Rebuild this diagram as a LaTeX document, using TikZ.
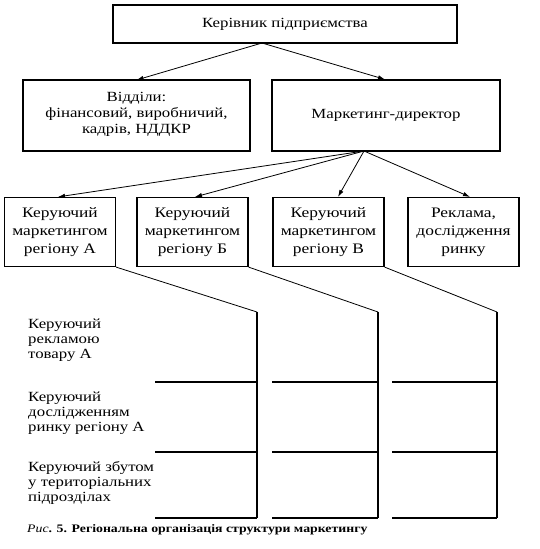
\documentclass[tikz,border=0pt]{standalone}
\usepackage{fontspec}
\setmainfont{Liberation Serif}[FakeStretch=1.2]
\usetikzlibrary{arrows.meta, positioning, calc}
\tikzset{
  obox/.style={draw, line width=1.2pt, align=center, inner sep=2pt,
               font=\fontsize{14}{16}\selectfont},
  rbox/.style={obox, minimum width=111pt, minimum height=69pt,
               font=\fontsize{14.5}{18}\selectfont},
  arr/.style={-{Latex[length=7pt,width=4.5pt]}, line width=0.8pt},
  slant/.style={line width=0.8pt},
  gridline/.style={line width=2pt},
  lbl/.style={anchor=west, align=left, inner sep=0pt,
              font=\fontsize{14}{15}\selectfont},
}
\begin{document}
\begin{tikzpicture}[x=1pt, y=-1pt]
  \useasboundingbox (0,0) rectangle (539,549);
  % top level
  \node[obox, minimum width=344pt, minimum height=38pt] (head) at (285,24) {Керівник підприємства};
  \node[obox, minimum width=227pt, minimum height=71pt, text depth=6pt] (depts) at (136.5,115.5)
    {Відділи:\\фінансовий, виробничий,\\кадрів, НДДКР};
  \node[obox, minimum width=228pt, minimum height=71pt] (mdir) at (386,115.5) {Маркетинг-директор};
  \coordinate (head-out) at (262,43);
  \draw[arr] (head-out) -- (143,80 -| depts.north);
  \draw[arr] (head-out) -- ($(mdir.north)+(-1,0)$);
  % regional managers
  \node[rbox] (reg-a) at (60,232) {Керуючий\\маркетингом\\регіону А};
  \node[rbox] (reg-b) at (192.5,232) {Керуючий\\маркетингом\\регіону Б};
  \node[rbox] (reg-c) at (328.5,232) {Керуючий\\маркетингом\\регіону В};
  \node[rbox] (adv) at (463.5,232) {Реклама,\\дослідження\\ринку};
  \coordinate (mdir-out) at (364,151);
  \draw[arr] (mdir-out) -- ($(reg-a.north)+(-2,0)$);
  \draw[arr] (mdir-out) -- ($(reg-b.north)+(2.5,0)$);
  \draw[arr] (mdir-out) -- ($(reg-c.north)+(9.5,0)$);
  \draw[arr] (mdir-out) -- ($(adv.north)+(6.5,0)$);
  % functions inside each region
  \node[lbl] (f-adv) at (28,340) {Керуючий\\рекламою\\товару А};
  \node[lbl] (f-res) at (28,413) {Керуючий\\дослідженням\\ринку регіону А};
  \node[lbl] (f-sale) at (28,483) {Керуючий збутом\\у територіальних\\підрозділах};
  \foreach \i/\bx/\cx/\lx in {1/reg-a/257/155, 2/reg-b/378/272, 3/reg-c/497/392}{
    \coordinate (col\i-top) at (\cx,312);
    \coordinate (col\i-bot) at (\cx,518);
    \draw[slant] (\bx.south east) -- (col\i-top);
    \draw[gridline] (col\i-top) -- (col\i-bot);
    \foreach \y in {382,452,518}
      \draw[gridline] (\lx,\y) -- (col\i-top |- 0,\y);
  }
  % caption
  \node[anchor=west, inner sep=0pt, font=\fontsize{11.5}{14}\selectfont] (cap) at (27,530)
    {\textit{Рис}\textbf{. 5. Регіональна організація структури маркетингу}};
\end{tikzpicture}
\end{document}
